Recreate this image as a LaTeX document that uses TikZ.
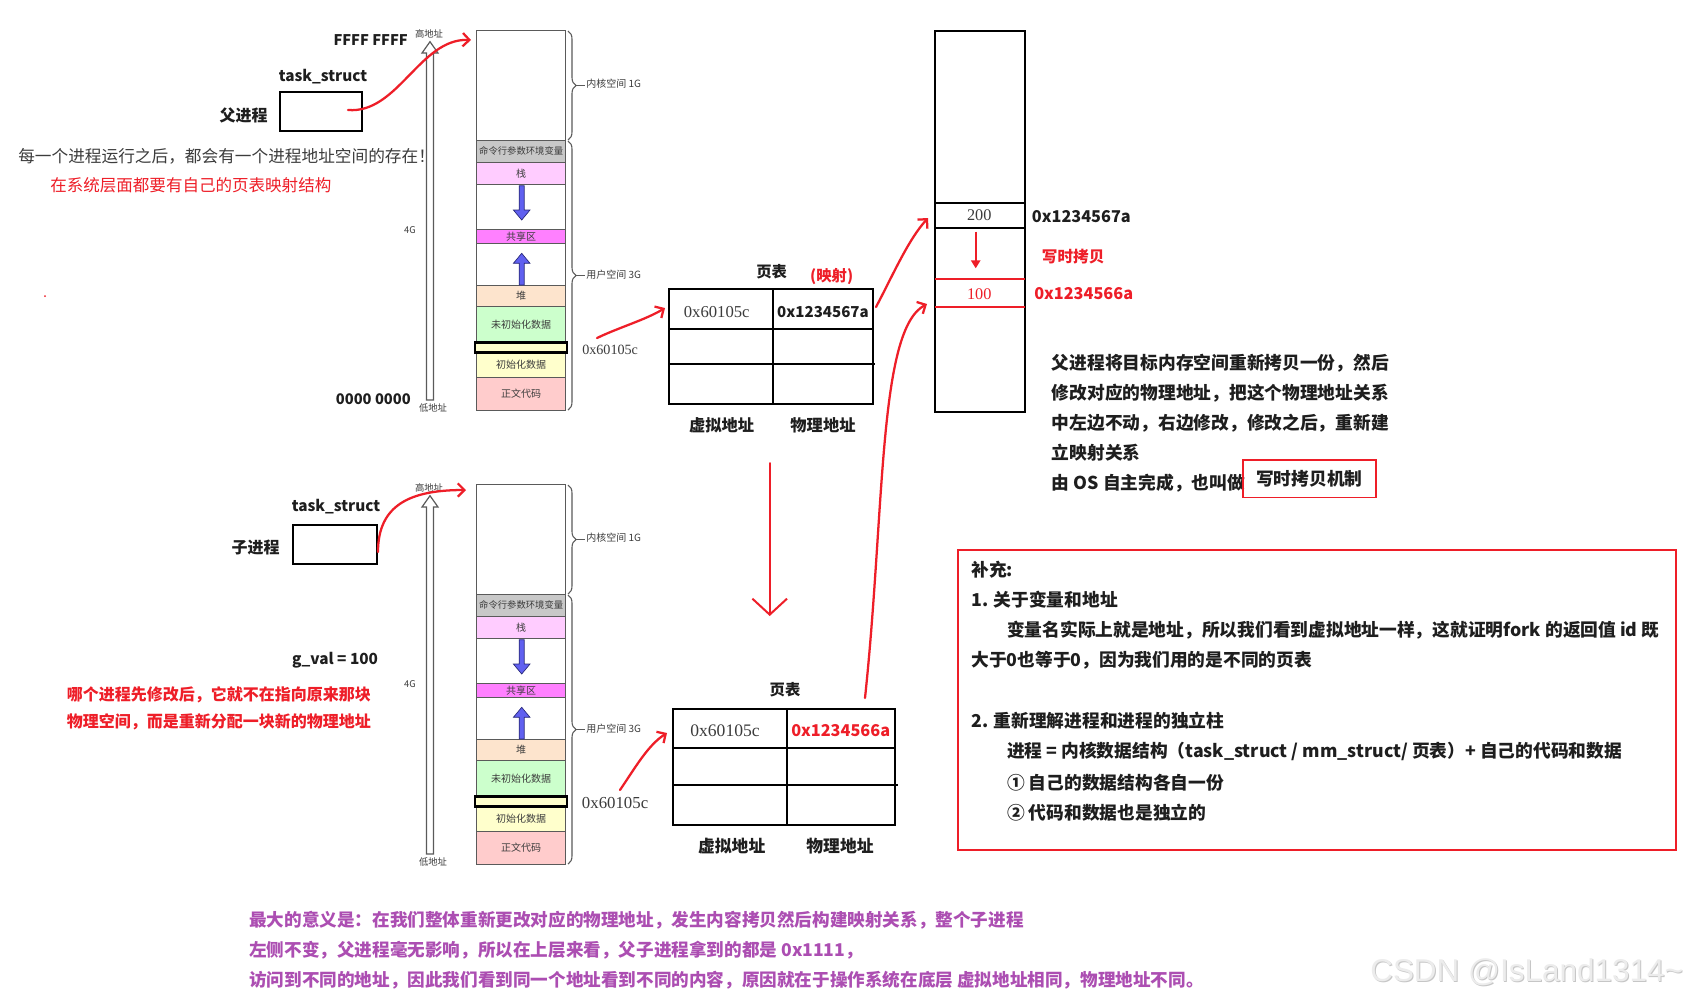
\documentclass[tikz,border=0pt]{standalone}
\usepackage{fontspec}
\setmainfont{Noto Sans CJK SC}
\newfontfamily\serifh{Liberation Serif}
\newfontfamily\arialf{Liberation Sans}
\usetikzlibrary{arrows.meta,decorations.pathreplacing,calc}

\definecolor{colgray}{RGB}{90,90,90}
\definecolor{argbg}{RGB}{200,200,200}
\definecolor{stackc}{RGB}{255,204,255}
\definecolor{sharec}{RGB}{255,128,255}
\definecolor{heapc}{RGB}{253,228,205}
\definecolor{bssc}{RGB}{204,255,204}
\definecolor{datac}{RGB}{255,255,204}
\definecolor{textc}{RGB}{255,204,204}
\definecolor{blueA}{RGB}{96,96,240}
\definecolor{blueO}{RGB}{40,40,120}
\definecolor{redp}{RGB}{238,30,40}
\definecolor{purp}{RGB}{172,78,178}
\definecolor{txtgray}{RGB}{60,60,60}
\definecolor{ink}{RGB}{30,30,30}

\newcommand{\fs}[1]{\fontsize{#1pt}{#1pt}\selectfont}

% one address-space column; #1 = vertical offset, #2 = name prefix
\newcommand{\AddrSpace}[2]{%
  % hollow vertical arrow
  \filldraw[draw=colgray, fill=white, line width=0.9pt]
    (426.5,{400+#1}) -- (426.5,{53+#1}) -- (422,{53+#1}) -- (430,{41.7+#1})
    -- (438,{53+#1}) -- (433.5,{53+#1}) -- (433.5,{400+#1}) -- cycle;
  \node[tiny] (#2hi) at (429,{34+#1}) {高地址};
  \node[tiny] (#2lo) at (433,{408+#1}) {低地址};
  \node[tiny] (#2fg) at (410,{230+#1}) {4G};
  % segments
  \filldraw[seg, fill=white]  (476.7,{30.7+#1}) rectangle (565.7,{140+#1});
  \filldraw[seg, fill=argbg]  (476.7,{140+#1}) rectangle (565.7,{162.3+#1});
  \node[collbl, font=\fs{7}] (#2argv) at (521.2,{151.2+#1}) {命令行参数环境变量};
  \filldraw[seg, fill=stackc] (476.7,{162.3+#1}) rectangle (565.7,{184+#1});
  \node[collbl] (#2stack) at (521.2,{173.2+#1}) {栈};
  \filldraw[seg, fill=white]  (476.7,{184+#1}) rectangle (565.7,{229.3+#1});
  \filldraw[seg, fill=sharec] (476.7,{229.3+#1}) rectangle (565.7,{243.3+#1});
  \node[collbl] (#2share) at (521.2,{236.3+#1}) {共享区};
  \filldraw[seg, fill=white]  (476.7,{243.3+#1}) rectangle (565.7,{285.7+#1});
  \filldraw[seg, fill=heapc]  (476.7,{285.7+#1}) rectangle (565.7,{306.7+#1});
  \node[collbl] (#2heap) at (521.2,{296.2+#1}) {堆};
  \filldraw[seg, fill=bssc]   (476.7,{306.7+#1}) rectangle (565.7,{341.7+#1});
  \node[collbl] (#2bss) at (521.2,{324.2+#1}) {未初始化数据};
  \filldraw[seg, fill=datac]  (476.7,{352.7+#1}) rectangle (565.7,{377.3+#1});
  \node[collbl] (#2data) at (521.2,{365+#1}) {初始化数据};
  \filldraw[seg, fill=textc]  (476.7,{377.3+#1}) rectangle (565.7,{410.7+#1});
  \node[collbl] (#2text) at (521.2,{394+#1}) {正文代码};
  \filldraw[draw=black, fill=datac, line width=2.2pt] (475,{342.5+#1}) rectangle (567,{352.2+#1});
  % growth arrows
  \filldraw[fill=blueA, draw=blueO, line width=0.5pt]
    (519.2,{185.7+#1}) -- (519.2,{210+#1}) -- (513.4,{210+#1}) -- (521.7,{220+#1})
    -- (530,{210+#1}) -- (524.2,{210+#1}) -- (524.2,{185.7+#1}) -- cycle;
  \filldraw[fill=blueA, draw=blueO, line width=0.5pt]
    (519.2,{285+#1}) -- (519.2,{263.3+#1}) -- (513.4,{263.3+#1}) -- (521.7,{253.3+#1})
    -- (530,{263.3+#1}) -- (524.2,{263.3+#1}) -- (524.2,{285+#1}) -- cycle;
  % braces
  \draw[colgray, line width=0.8pt, decorate, decoration={brace, amplitude=6pt}]
    (568,{31+#1}) -- (568,{140+#1});
  \draw[colgray, line width=0.8pt, decorate, decoration={brace, amplitude=6pt}]
    (568,{141+#1}) -- (568,{410+#1});
  \draw[colgray, line width=0.8pt] (576,{85.5+#1}) -- (585,{85.5+#1});
  \draw[colgray, line width=0.8pt] (576,{275.5+#1}) -- (585,{275.5+#1});
  \node[tiny, anchor=west, font=\fs{7.5}] (#2kern) at (586,{84+#1}) {内核空间 1G};
  \node[tiny, anchor=west, font=\fs{7.5}] (#2user) at (586,{275+#1}) {用户空间 3G};
}

\begin{document}
\begin{tikzpicture}[x=0.75pt, y=-0.75pt,
  seg/.style={draw=colgray, line width=0.75pt},
  collbl/.style={font=\fs{7.5}, text=txtgray, inner sep=0pt},
  tiny/.style={font=\fs{7}, text=txtgray, inner sep=0pt},
  bold/.style={font=\bfseries\fs{#1}, text=ink, inner sep=0pt},
  bold/.default=11.5,
  boxln/.style={draw=black, line width=1.5pt},
  redpen/.style={draw=redp, line width=1.7pt, line cap=round,
    -{Straight Barb[length=5pt,width=10pt,line width=1.7pt]}},
  hexs/.style={font=\serifh\fs{#1}, text=txtgray, inner sep=0pt},
  hexs/.default=12.5,
  body/.style={font=\bfseries\fs{13.3}, text=ink, inner sep=0pt, anchor=west},
  purple/.style={font=\bfseries\fs{13.2}, text=purp, inner sep=0pt, anchor=west}
]
\useasboundingbox[fill=white] (0,0) rectangle (1688,1001);

% ================= PARENT =================
\node[bold, anchor=east, font=\bfseries\fs{11}] (ffff) at (408,40) {FFFF FFFF};
\node[bold, anchor=east, font=\bfseries\fs{11}] (zero) at (411,399) {0000 0000};
\node[bold] (pts) at (323,77) {task\_struct};
\node[boxln, minimum width=61.5pt, minimum height=29.5pt, inner sep=0pt] (pbox) at (321,111.3) {};
\node[bold=12, anchor=east] (pname) at (268,115) {父进程};
\node[font=\fs{12.5}, text=txtgray, anchor=west, inner sep=0pt] (every) at (18,156.7)
  {每一个进程运行之后，都会有一个进程地址空间的存在！};
\node[font=\fs{12.4}, text=redp, anchor=west, inner sep=0pt] (sysl) at (50,185.7)
  {在系统层面都要有自己的页表映射结构};
\fill[redp] (45,296) circle (1);

\AddrSpace{0}{pa}

\node[hexs=10.6, anchor=west] (pva) at (582,350) {0x60105c};

% page table (parent)
\draw[boxln] (669,289.3) rectangle (873.3,404.3);
\draw[boxln] (773.3,289.3) -- (773.3,404.3);
\draw[boxln] (669,329.3) -- (873.3,329.3);
\draw[boxln] (669,364.3) -- (875,364.3);
\node[bold] (pt1) at (771.7,271.7) {页表};
\node[bold, text=redp] (pmap) at (831.7,276) {(映射)};
\node[hexs] (pv1) at (716.7,311.7) {0x60105c};
\node[bold=11.3] (pp1) at (823,311.7) {0x1234567a};
\node[bold=12.2] (pvl) at (721.7,425) {虚拟地址};
\node[bold=12.2] (ppl) at (823,425) {物理地址};

% physical memory
\draw[boxln] (935,30.7) rectangle (1025,411.7);
\draw[boxln] (935,203.3) -- (1025,203.3);
\draw[boxln] (935,227.7) -- (1025,227.7);
\draw[draw=redp, line width=1.5pt] (935,279.3) -- (1025,279.3);
\draw[draw=redp, line width=1.5pt] (935,307.3) -- (1025,307.3);
\node[hexs=12.2] (v200) at (979.3,215) {200};
\node[hexs=12.2, text=redp] (v100) at (979.3,294) {100};
\node[bold=12.2, anchor=west] (a7a) at (1031.7,216.7) {0x1234567a};
\node[bold=12.2, anchor=west, text=redp] (a6a) at (1034,293.3) {0x1234566a};
\node[bold=11.7, anchor=west, text=redp] (cow) at (1041.7,257) {写时拷贝};
\coordinate (cowA) at (975.7,231.7);
\coordinate (cowB) at (975.7,268.3);
\draw[draw=redp, line width=1.3pt, -{Triangle[length=6pt,width=7pt]}] (cowA) -- (cowB);

% right explanation
\node[body] (r1) at (1051.7,362.7) {父进程将目标内存空间重新拷贝一份，然后};
\node[body] (r2) at (1051.7,393.3) {修改对应的物理地址，把这个物理地址关系};
\node[body] (r3) at (1051.7,422.7) {中左边不动，右边修改，修改之后，重新建};
\node[body] (r4) at (1051.7,452.7) {立映射关系};
\node[body] (r5) at (1051.7,483.3) {由 OS 自主完成，也叫做};
\node[draw=redp, line width=1.3pt, minimum width=100pt, minimum height=28pt,
      font=\bfseries\fs{13.3}, text=ink, inner sep=0pt] (cowbox) at (1309.3,478.7) {\raisebox{-2pt}{写时拷贝机制}};

% ================= CHILD =================
\node[bold] (cts) at (336,506.7) {task\_struct};
\node[boxln, minimum width=63pt, minimum height=29.5pt, inner sep=0pt] (cbox) at (334.7,544.7) {};
\node[bold=12, anchor=east] (cname) at (280,547.3) {子进程};
\node[bold=11.5, anchor=east] (gval) at (378.3,660) {g\_val = 100};
\node[font=\bfseries\fs{12}, text=redp, anchor=west, inner sep=0pt] (cr1) at (66.7,695)
  {哪个进程先修改后，它就不在指向原来那块};
\node[font=\bfseries\fs{12}, text=redp, anchor=west, inner sep=0pt] (cr2) at (66.7,721.7)
  {物理空间，而是重新分配一块新的物理地址};

\AddrSpace{454}{ch}

\node[hexs=12.6, anchor=west] (cva) at (581.7,803.3) {0x60105c};

% page table (child)
\draw[boxln] (673.3,709) rectangle (895,825);
\draw[boxln] (786.7,709) -- (786.7,825);
\draw[boxln] (673.3,748.3) -- (895,748.3);
\draw[boxln] (673.3,785) -- (898,785);
\node[bold] (pt2) at (785,690) {页表};
\node[hexs=13.2] (cv1) at (725,730.7) {0x60105c};
\node[bold=12.2, text=redp] (cp1) at (840.7,730.7) {0x1234566a};
\node[bold=12.6] (cvl) at (731.7,846) {虚拟地址};
\node[bold=12.6] (cpl) at (840,846) {物理地址};

% ================= RED PEN CONNECTORS =================
\coordinate (p1s) at (348,110);   \coordinate (p1e) at (471,40);
\draw[redpen] (p1s) .. controls (398,114) and (420,38) .. (p1e);
\coordinate (c1s) at (378,552);   \coordinate (c1e) at (466,490);
\draw[redpen] (c1s) .. controls (378,505) and (410,490) .. (c1e);
\coordinate (a1s) at (597,338);   \coordinate (a1e) at (665,308);
\draw[redpen] (a1s) .. controls (620,327) and (645,320) .. (a1e);
\coordinate (a2s) at (620,790);   \coordinate (a2e) at (667,733);
\draw[redpen] (a2s) .. controls (635,768) and (648,745) .. (a2e);
\coordinate (t1s) at (876,307);   \coordinate (t1e) at (928,218);
\draw[redpen] (t1s) .. controls (893,275) and (908,240) .. (t1e);
\coordinate (t2s) at (865,698);   \coordinate (t2e) at (927,304);
\draw[redpen] (t2s) .. controls (885,510) and (878,330) .. (t2e);
\coordinate (vtop) at (769.7,463); \coordinate (vbot) at (769.7,616);
\draw[draw=redp, line width=1.5pt, line cap=round,
      -{Straight Barb[length=12pt,width=26pt,line width=1.5pt]}] (vtop) -- (vbot);

% ================= SUPPLEMENT =================
\draw[draw=redp, line width=1.5pt] (958,550) rectangle (1676,850);
\node[body] (s0) at (971,569.3) {补充:};
\node[body] (s1) at (971,600) {1. 关于变量和地址};
\node[body] (s2) at (1006.8,630) {变量名实际上就是地址，所以我们看到虚拟地址一样，这就证明fork 的返回值 id 既};
\node[body] (s3) at (971,660) {大于0也等于0，因为我们用的是不同的页表};
\node[body] (s4) at (971,721) {2. 重新理解进程和进程的独立柱};
\node[body] (s5) at (1006.8,751.7) {进程 = 内核数据结构（task\_struct / mm\_struct/ 页表）+ 自己的代码和数据};
\node[body] (s6) at (1006.8,782.3) {① 自己的数据结构各自一份};
\node[body] (s7) at (1006.8,812.3) {② 代码和数据也是独立的};

% ================= BOTTOM =================
\node[purple] (b1) at (249,920) {最大的意义是：在我们整体重新更改对应的物理地址，发生内容拷贝然后构建映射关系，整个子进程};
\node[purple] (b2) at (249,950) {左侧不变，父进程毫无影响，所以在上层来看，父子进程拿到的都是 0x1111，};
\node[purple] (b3) at (249,980) {访问到不同的地址，因此我们看到同一个地址看到不同的内容，原因就在于操作系统在底层 虚拟地址相同，物理地址不同。};

\node[anchor=west, font=\arialf\fs{23.6}, text=gray!45, inner sep=0pt] (wms) at (1371,973) {CSDN @IsLand1314\char`\~};
\node[anchor=west, font=\arialf\fs{23.6}, text=gray!15, inner sep=0pt] (wm) at (1370,972) {CSDN @IsLand1314\char`\~};
\end{tikzpicture}
\end{document}
